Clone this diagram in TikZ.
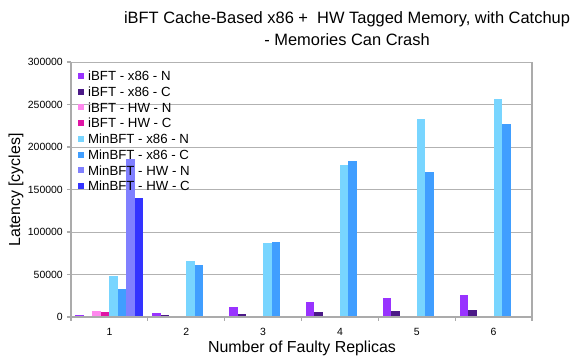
\documentclass[tikz,border=0pt]{standalone}
\usepackage{fontspec}
\setmainfont{Liberation Sans}
\definecolor{ibxn}{RGB}{153,51,255}
\definecolor{ibxc}{RGB}{75,25,135}
\definecolor{ibhn}{RGB}{255,136,238}
\definecolor{ibhc}{RGB}{225,20,165}
\definecolor{mbxn}{RGB}{120,213,255}
\definecolor{mbxc}{RGB}{64,158,255}
\definecolor{mbhn}{RGB}{128,128,255}
\definecolor{mbhc}{RGB}{51,51,255}
\newcommand{\plotxs}{71}
\newcommand{\plotxe}{532}
\newcommand{\plotys}{43}
\newcommand{\plotye}{298}
\newcommand{\grpw}{76.83}
\newcommand{\barw}{8.5}
\newcommand{\grpin}{4.4}
\newcommand{\yscl}{0.85}

\begin{document}
\begin{tikzpicture}[x=1bp,y=1bp,
    gridln/.style={draw=black!30, line width=0.9bp},
    axisln/.style={draw=black!33, line width=1.2bp},
    ticklbl/.style={font=\fontsize{10.5}{12}\selectfont, inner sep=0pt},
    legtxt/.style={font=\fontsize{13.3}{15}\selectfont, inner sep=0pt, anchor=west},
    axtitle/.style={font=\fontsize{16}{19}\selectfont, inner sep=0pt}]
    \useasboundingbox (0,0) rectangle (574,360);

    % grid lines and y tick labels
    \foreach \v/\t in {0/0,50/50000,100/100000,150/150000,200/200000,250/250000,300/300000}{
      \draw[gridln] (\plotxs,{\plotys+\v*\yscl}) -- (\plotxe,{\plotys+\v*\yscl});
      \draw[axisln] (67,{\plotys+\v*\yscl}) -- (\plotxs,{\plotys+\v*\yscl});
      \node[ticklbl, anchor=east] (ylab\v) at (63,{\plotys+\v*\yscl}) {\t};
    }

    % bars, one series at a time
    \foreach \c/\vals [count=\k] in {
        ibxn/{2.5,5.0,11.7,17.3,22.3,25.5},
        ibxc/{1.0,2.3,3.1,5.9,7.5,8.6},
        ibhn/{6.7},
        ibhc/{5.9},
        mbxn/{48.6,65.9,86.7,178.4,233.3,256.1},
        mbxc/{33.3,60.8,87.9,183.9,170.2,227.4},
        mbhn/{185.5},
        mbhc/{140.3}}{
      \foreach \h [count=\g] in \vals {
        \fill[\c] ({\plotxs+(\g-1)*\grpw+\grpin+(\k-1)*\barw},\plotys)
          rectangle ++(\barw,{\h*\yscl});
      }
    }

    % axes and frame
    \draw[axisln] (\plotxs,\plotys) -- (\plotxs,\plotye);
    \draw[axisln] (\plotxe,\plotys) -- (\plotxe,\plotye);
    \draw[axisln] (\plotxs,\plotys) -- (\plotxe,\plotys);
    \foreach \g in {0,...,6}
      \draw[axisln] ({\plotxs+\g*\grpw},\plotys) -- ++(0,-4);
    \foreach \g in {1,...,6}
      \node[ticklbl] (xlab\g) at ({\plotxs+(\g-0.5)*\grpw},28.3) {\g};

    % legend
    \foreach \c/\t [count=\k] in {ibxn/iBFT - x86 - N, ibxc/iBFT - x86 - C,
        ibhn/iBFT - HW - N, ibhc/iBFT - HW - C, mbxn/MinBFT - x86 - N,
        mbxc/MinBFT - x86 - C, mbhn/MinBFT - HW - N, mbhc/MinBFT - HW - C}{
      \fill[\c] (78,{284-(\k-1)*15.7-3}) rectangle ++(6,6);
      \node[legtxt] (leg\k) at (88,{284-(\k-1)*15.7}) {\t};
    }

    % titles
    \node[axtitle] (xtitle) at (302,12) {Number of Faulty Replicas};
    \node[axtitle, rotate=90] (ytitle) at (16,170) {Latency [cycles]};
    \node[font=\fontsize{16.5}{22}\selectfont, align=center, inner sep=0pt]
      (title) at (347,331) {iBFT Cache-Based x86 + \ HW Tagged Memory, with Catchup\\- Memories Can Crash};
  \end{tikzpicture}
\end{document}
